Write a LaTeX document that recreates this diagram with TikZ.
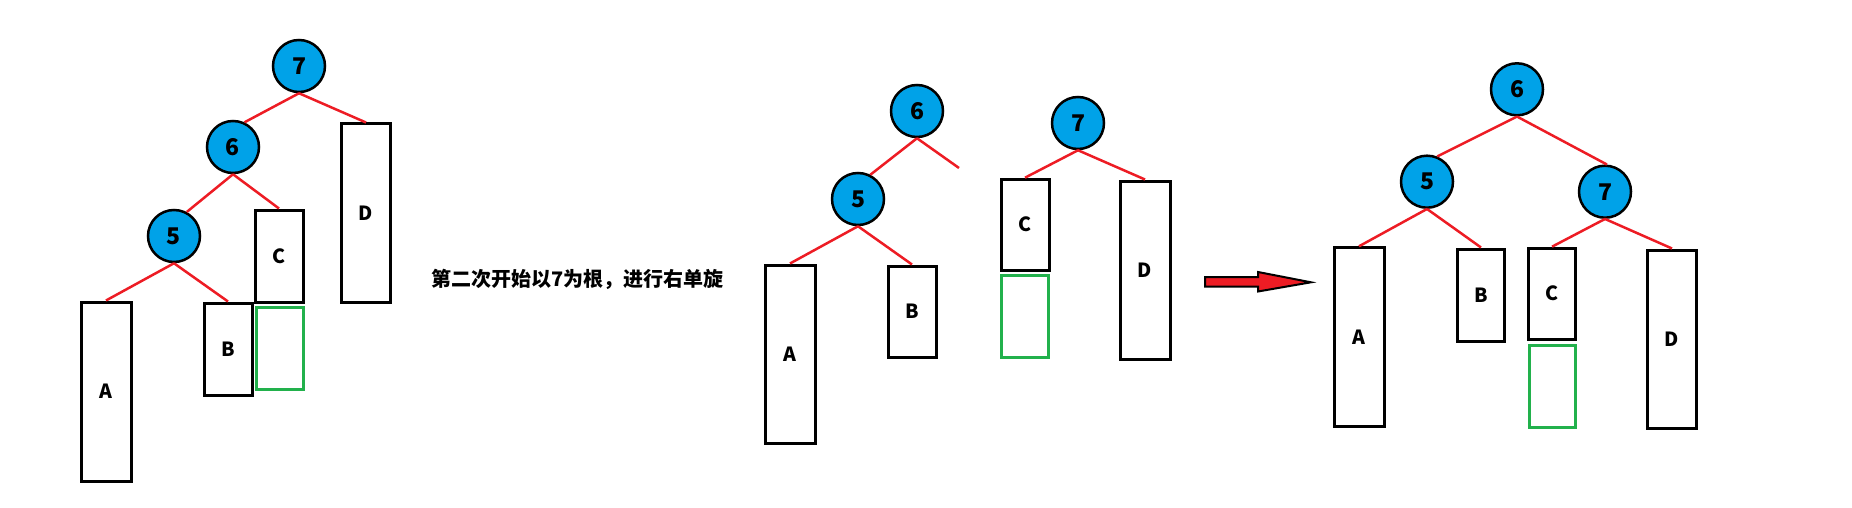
\documentclass[tikz,border=0pt]{standalone}
\usepackage{fontspec}
\setmainfont{Noto Sans CJK SC}
\usepackage{tikz}
\usetikzlibrary{positioning}
\usepackage{xcolor}
\definecolor{paintBlue}{HTML}{00A2E8}
\definecolor{paintRed}{HTML}{ED1C24}
\definecolor{paintGreen}{HTML}{22B14C}

\begin{document}
\begin{tikzpicture}[
    x=1pt, y=-1pt,
    knot/.style={circle, draw, line width=2.5pt, fill=paintBlue,
                 minimum size=52pt, inner sep=0pt,
                 font=\fontsize{23}{26}\selectfont\bfseries},
    sub/.style={draw, line width=3pt, inner sep=0pt, minimum width=48pt,
                font=\fontsize{19.5}{22}\selectfont\bfseries},
    slot/.style={draw=paintGreen, line width=3pt, inner sep=0pt,
                 minimum width=47pt, minimum height=82pt},
    link/.style={paintRed, line width=2.5pt}
  ]
    \useasboundingbox (0,0) rectangle (1852,508);

    % before: 7 is the root
    \node[knot] (n7a) at (299,66) {7};
    \node[knot] (n6a) at (233,147) {6};
    \node[knot] (n5a) at (174,236) {5};
    \node[sub, minimum width=50pt, minimum height=179pt] (Aa) at (106,391.5) {A};
    \node[sub, minimum height=92pt] (Ba) at (228,349) {B};
    \node[sub, minimum height=92pt] (Ca) at (279,256) {C};
    \node[slot] (Ga) at (279.5,348) {};
    \node[sub, minimum width=49pt, minimum height=178pt] (Da) at (366,213) {D};
    \draw[link] (n7a.south) -- (n6a.65);
    \draw[link] (n7a.south) -- (Da.north);
    \draw[link] (n6a.south) -- (n5a.62);
    \draw[link] (n6a.south) -- (Ca.north);
    \draw[link] (n5a.south) -- (Aa.north);
    \draw[link] (n5a.south) -- (Ba.north);

    \node[font=\fontsize{20}{24}\selectfont\bfseries] (note) at (577.5,279)
      {第二次开始以7为根，进行右单旋};

    % C is cut off from 6 and hung under 7
    \node[knot] (n6b) at (917,111) {6};
    \node[knot] (n5b) at (858,199) {5};
    \node[knot] (n7b) at (1078,123) {7};
    \coordinate (cut) at (959,168);
    \node[sub, minimum width=50pt, minimum height=178pt] (Ab) at (790,354) {A};
    \node[sub, minimum height=91pt] (Bb) at (912,311.5) {B};
    \node[sub, minimum height=91pt] (Cb) at (1025,224.7) {C};
    \node[slot] (Gb) at (1024.5,316) {};
    \node[sub, minimum width=50pt, minimum height=178pt] (Db) at (1145,270) {D};
    \draw[link] (n6b.south) -- (n5b.63);
    \draw[link] (n6b.south) -- (cut);
    \draw[link] (n5b.south) -- (Ab.north);
    \draw[link] (n5b.south) -- (Bb.north);
    \draw[link] (n7b.south) -- (Cb.north);
    \draw[link] (n7b.south) -- (Db.north);

    \draw[fill=paintRed, line width=2pt] (1205,277) -- (1258,277) -- (1258,272)
      -- (1311,282.3) -- (1258,291.5) -- (1258,286.7) -- (1205,286.7) -- cycle;

    % after: 6 is the root
    \node[knot] (n6c) at (1517,89.3) {6};
    \node[knot] (n5c) at (1427,181.7) {5};
    \node[knot] (n7c) at (1605,191.7) {7};
    \node[sub, minimum width=50pt, minimum height=179pt] (Ac) at (1359,337.3) {A};
    \node[sub, minimum width=47pt, minimum height=92pt] (Bc) at (1481,295) {B};
    \node[sub, minimum width=47pt, minimum height=91pt] (Cc) at (1552,293.7) {C};
    \node[slot, minimum width=46pt] (Gc) at (1552.5,386) {};
    \node[sub, minimum width=49pt, minimum height=178pt] (Dc) at (1672,339) {D};
    \draw[link] (n6c.south) -- (n5c.68);
    \draw[link] (n6c.south) -- (n7c.86);
    \draw[link] (n5c.south) -- (Ac.north);
    \draw[link] (n5c.south) -- (Bc.north);
    \draw[link] (n7c.south) -- (Cc.north);
    \draw[link] (n7c.south) -- (Dc.north);
  \end{tikzpicture}
\end{document}
